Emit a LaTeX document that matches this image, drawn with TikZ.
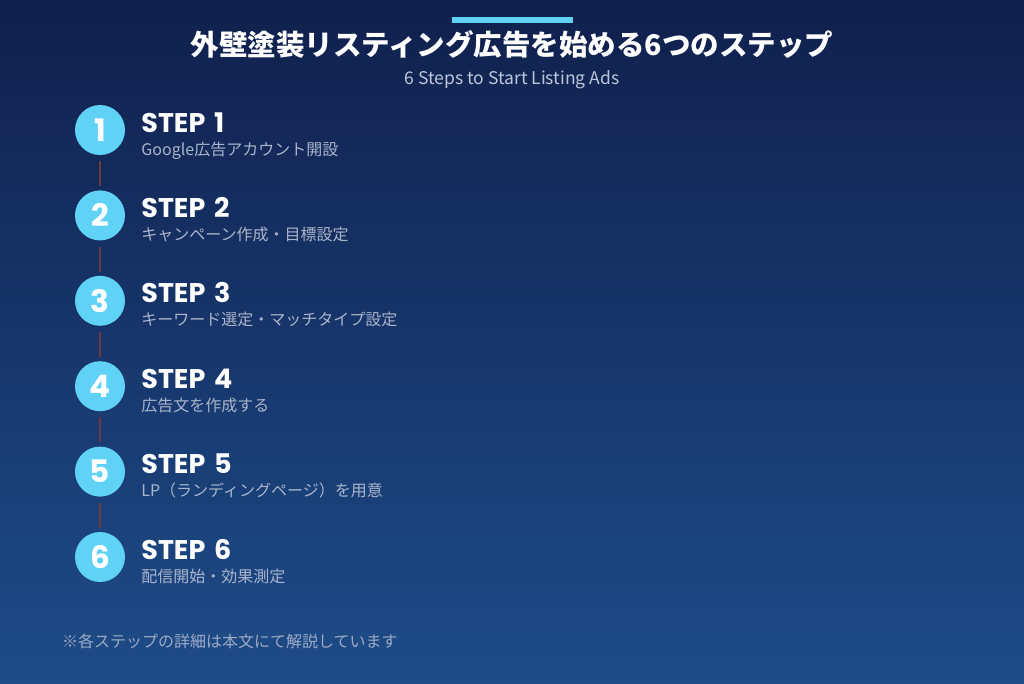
\documentclass[tikz,border=0pt]{standalone}
\usepackage{fontspec}
\newfontfamily\jp{Noto Sans CJK JP}
\newfontfamily\pop{Poppins}
\usepackage{tikz}
\usetikzlibrary{positioning}

\definecolor{bgtop}{HTML}{10204D}
\definecolor{bgbot}{HTML}{1E4C89}
\definecolor{accent}{HTML}{5FD2F6}
\definecolor{linkred}{HTML}{6E3A40}
\definecolor{descgray}{HTML}{AAB5CB}
\definecolor{subgray}{HTML}{BCC6DA}

\newcommand{\stepgap}{\hspace{0.32em}}

\begin{document}
\begin{tikzpicture}[
    x=1pt, y=-1pt,
    node distance=35pt,
    num/.style={circle, fill=accent, minimum size=50pt, inner sep=0pt, text=white, font=\pop\bfseries\fontsize{31}{32}\selectfont},
    head/.style={anchor=base west, inner sep=0pt, text=white, font=\pop\bfseries\fontsize{27}{30}\selectfont},
    desc/.style={anchor=base west, inner sep=0pt, text=descgray, font=\jp\fontsize{16}{18}\selectfont},
    link/.style={draw=linkred, line width=2pt, shorten <=6pt, shorten >=4pt}
]

% BACKGROUND
\shade[top color=bgtop, bottom color=bgbot] (0,0) rectangle (1024,683);
\useasboundingbox (0,0) rectangle (1024,683);

% TITLE
\fill[accent] (452,17) rectangle (573,23);
\node[anchor=base, inner sep=0pt, text=white, font=\jp\bfseries\fontsize{28.5}{32}\selectfont] (title) at (512,55) {外壁塗装リスティング広告を始める6つのステップ};
\node[anchor=base, inner sep=0pt, text=subgray, font=\jp\fontsize{17.5}{20}\selectfont] (subtitle) at (512,84) {6 Steps to Start Listing Ads};

% STEPS
\node[num] (c1) at (100,130) {1};
\node[num, below=of c1] (c2) {2};
\node[num, below=of c2] (c3) {3};
\node[num, below=of c3] (c4) {4};
\node[num, below=of c4] (c5) {5};
\node[num, below=of c5] (c6) {6};

\node[head] (h1) at ([xshift=16pt, yshift=-2pt]c1.east) {STEP\stepgap 1};
\node[desc] (d1) at ([yshift=-23pt]h1.base west) {Google広告アカウント開設};
\node[head] (h2) at ([xshift=16pt, yshift=-2pt]c2.east) {STEP\stepgap 2};
\node[desc] (d2) at ([yshift=-23pt]h2.base west) {キャンペーン作成・目標設定};
\node[head] (h3) at ([xshift=16pt, yshift=-2pt]c3.east) {STEP\stepgap 3};
\node[desc] (d3) at ([yshift=-23pt]h3.base west) {キーワード選定・マッチタイプ設定};
\node[head] (h4) at ([xshift=16pt, yshift=-2pt]c4.east) {STEP\stepgap 4};
\node[desc] (d4) at ([yshift=-23pt]h4.base west) {広告文を作成する};
\node[head] (h5) at ([xshift=16pt, yshift=-2pt]c5.east) {STEP\stepgap 5};
\node[desc] (d5) at ([yshift=-23pt]h5.base west) {LP（ランディングページ）を用意};
\node[head] (h6) at ([xshift=16pt, yshift=-2pt]c6.east) {STEP\stepgap 6};
\node[desc] (d6) at ([yshift=-23pt]h6.base west) {配信開始・効果測定};

% Conexiones
\draw[link] (c1) -- (c2);
\draw[link] (c2) -- (c3);
\draw[link] (c3) -- (c4);
\draw[link] (c4) -- (c5);
\draw[link] (c5) -- (c6);

% FOOTER
\node[desc, text=descgray!90!bgbot] (note) at (62,647) {※各ステップの詳細は本文にて解説しています};

\end{tikzpicture}
\end{document}
